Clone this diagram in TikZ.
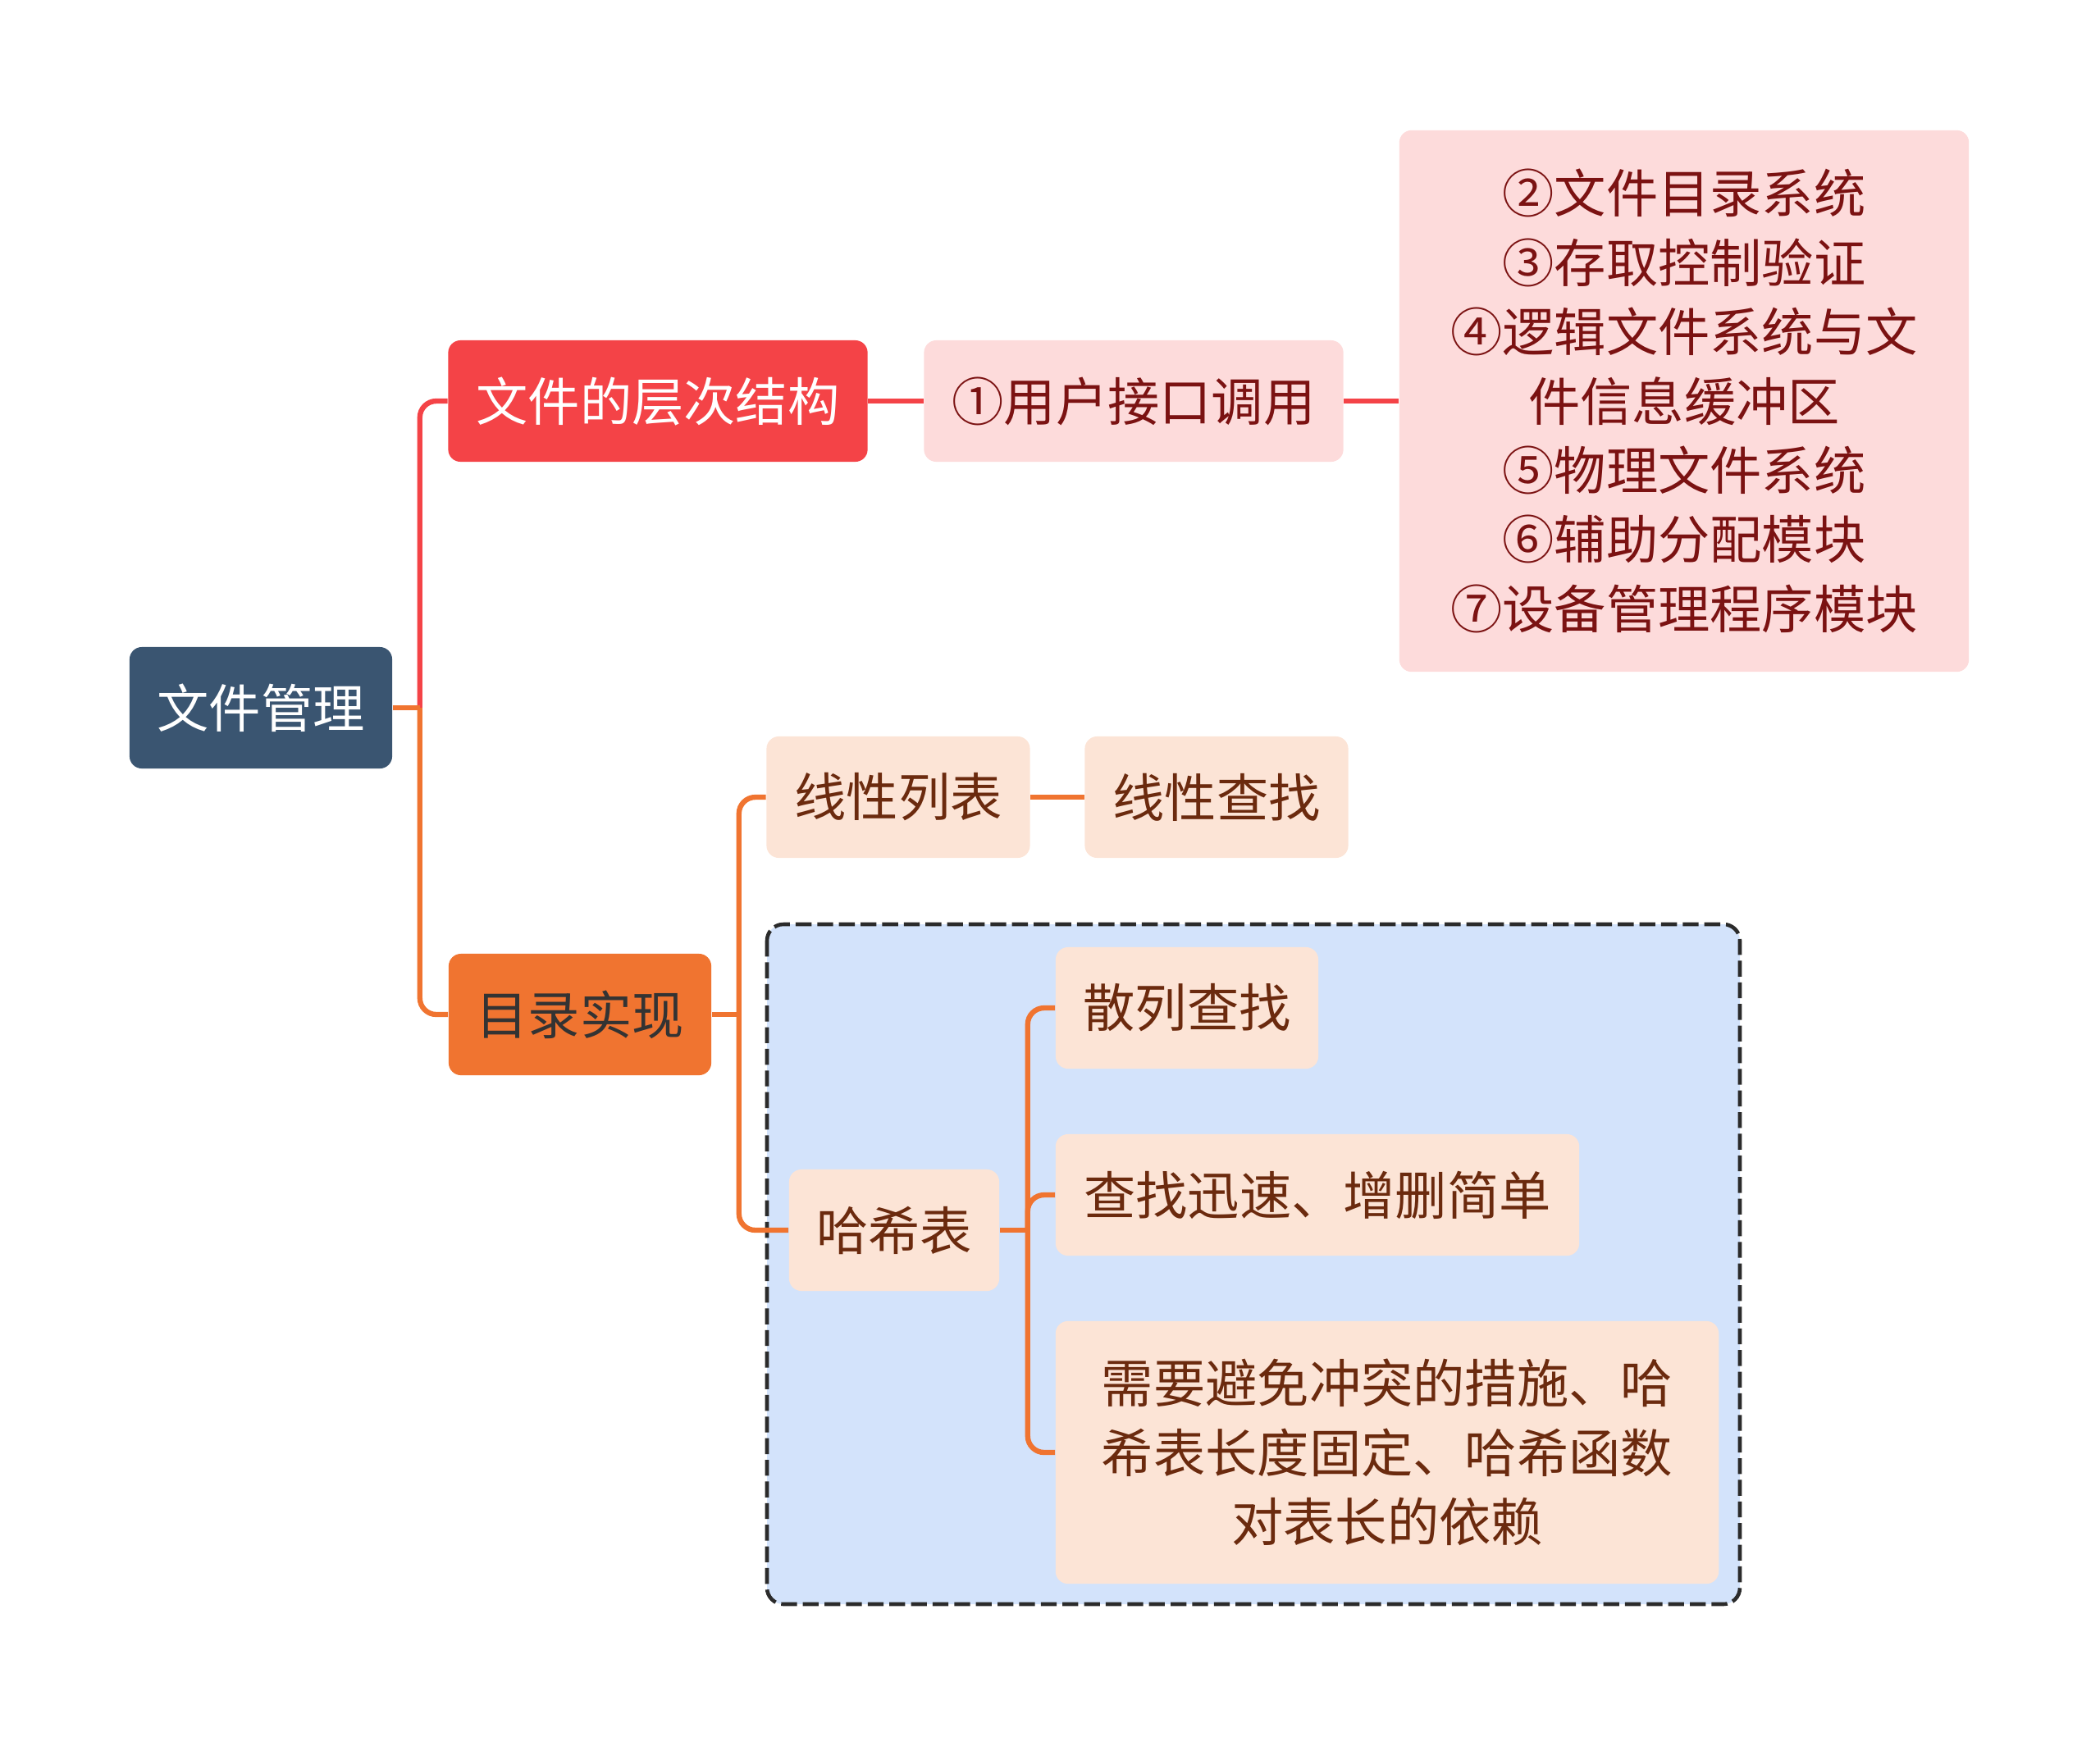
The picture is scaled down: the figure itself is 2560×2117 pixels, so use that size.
\documentclass[tikz,border=0pt]{standalone}
\usepackage{fontspec}
\setmainfont{Noto Sans CJK SC}
\usepackage{tikz}
\usetikzlibrary{positioning}

\definecolor{rootblue}{RGB}{58,85,113}
\definecolor{layerred}{RGB}{244,67,71}
\definecolor{pinkfill}{RGB}{253,219,219}
\definecolor{darkredtext}{RGB}{123,18,18}
\definecolor{dirorange}{RGB}{240,116,48}
\definecolor{peachfill}{RGB}{252,228,214}
\definecolor{browntext}{RGB}{107,42,14}
\definecolor{areablue}{RGB}{211,227,251}
\definecolor{dashgray}{RGB}{43,43,43}

\begin{document}
\begin{tikzpicture}[x=0.01cm, y=-0.01cm,
    topic/.style={rounded corners=0.15cm, inner sep=0pt, align=center,
        font=\fontsize{18pt}{24pt}\selectfont, minimum height=1.48cm},
    rootbox/.style={topic, fill=rootblue, text=white},
    redbox/.style={topic, fill=layerred, text=white},
    pinkbox/.style={topic, fill=pinkfill, text=darkredtext},
    orangebox/.style={topic, fill=dirorange, text=black!80},
    peachbox/.style={topic, fill=peachfill, text=browntext},
    redline/.style={draw=layerred, line width=1.8pt, rounded corners=0.2cm},
    orangeline/.style={draw=dirorange, line width=1.8pt, rounded corners=0.2cm}]
    \useasboundingbox (0,0) rectangle (2560,2117);

    % Hash table area
    \draw[fill=areablue, draw=dashgray, line width=1.3pt, dash pattern=on 5.5pt off 2pt,
        rounded corners=0.2cm] (935,1127) rectangle (2121,1956);

    % Root and first level
    \node[rootbox, minimum width=3.2cm] (root) at (318,863) {文件管理};
    \node[redbox, minimum width=5.11cm] (layer) at (802,489) {文件的层次结构};
    \node[orangebox, minimum width=3.2cm] (dir) at (707,1237) {目录实现};

    % Layer branch
    \node[pinkbox, minimum width=5.11cm] (ui) at (1382,489) {①用户接口调用};
    \node[pinkbox, minimum width=6.94cm, minimum height=6.6cm] (mods) at (2053,489)
        {②文件目录系统\\③存取控制验证\\④逻辑文件系统与文\\件信息缓冲区\\⑤物理文件系统\\⑥辅助分配模块\\⑦设备管理程序模块};

    % Directory branch
    \node[peachbox, minimum width=3.21cm] (linlist) at (1095,972) {线性列表};
    \node[peachbox, minimum width=3.21cm] (linsearch) at (1483,972) {线性查找};
    \node[peachbox, minimum width=2.56cm] (hash) at (1090,1500) {哈希表};
    \node[peachbox, minimum width=3.2cm] (hsearch) at (1447,1229) {散列查找};
    \node[peachbox, minimum width=6.38cm] (hfast) at (1606,1457) {查找迅速、增删简单};
    \node[peachbox, minimum width=8.08cm, minimum height=3.2cm] (hcost) at (1691,1771)
        {需要避免冲突的措施、哈\\希表长度固定、哈希函数\\对表长的依赖};

    % Connectors
    \coordinate (rootfork) at ([xshift=0.33cm]root.east);
    \coordinate (dirfork) at ([xshift=0.33cm]dir.east);
    \coordinate (hashfork) at ([xshift=0.34cm]hash.east);

    \draw[redline] (rootfork) |- (layer.west);
    \draw[redline] (layer.east) -- (ui.west);
    \draw[redline] (ui.east) -- (mods.west);
    \draw[orangeline] (root.east) -- (rootfork);
    \draw[orangeline] (rootfork) |- (dir.west);

    \draw[orangeline] (dir.east) -- (dirfork);
    \draw[orangeline] (dirfork) |- (linlist.west);
    \draw[orangeline] (dirfork) |- (hash.west);
    \draw[orangeline] (linlist.east) -- (linsearch.west);

    \draw[orangeline] (hash.east) -- (hashfork);
    \draw[orangeline] (hashfork) |- (hsearch.west);
    \draw[orangeline] (hashfork) |- (hfast.west);
    \draw[orangeline] (hashfork) |- (hcost.west);
\end{tikzpicture}
\end{document}
